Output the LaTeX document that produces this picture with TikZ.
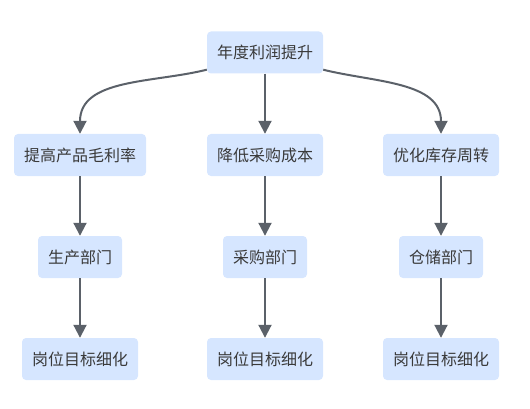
\documentclass[tikz,border=0pt]{standalone}
\usepackage{fontspec}
\newfontfamily\cjk{Noto Sans CJK SC}
\usetikzlibrary{arrows.meta}
\definecolor{boxblue}{HTML}{D6E6FF}
\definecolor{linegray}{HTML}{5B6169}
\definecolor{txtgray}{HTML}{3A3A3A}

\tikzset{
  box/.style={fill=boxblue,rounded corners=4pt,inner xsep=10pt,minimum height=42pt,
    text=txtgray,font=\cjk\fontsize{16}{18}\selectfont},
  arr/.style={draw=linegray,line width=2pt,-{Triangle[length=13pt,width=13pt]}}
}

\begin{document}
\begin{tikzpicture}[x=1pt,y=-1pt]
\useasboundingbox (0,0) rectangle (530,409);
\node[box] (goal) at (265,52.5) {年度利润提升};
\node[box] (margin) at (80,155) {提高产品毛利率};
\node[box] (cost) at (265,155) {降低采购成本};
\node[box] (stock) at (441,155) {优化库存周转};
\node[box] (prod) at (80,257) {生产部门};
\node[box] (buy) at (265,257) {采购部门};
\node[box] (store) at (441,257) {仓储部门};
\node[box] (jobA) at (80,359) {岗位目标细化};
\node[box] (jobB) at (265,359) {岗位目标细化};
\node[box] (jobC) at (441,359) {岗位目标细化};
\draw[arr] ([yshift=4pt]goal.south west) to[out=194,in=90] (margin.north);
\draw[arr] (goal) -- (cost);
\draw[arr] ([yshift=4pt]goal.south east) to[out=-14,in=90] (stock.north);
\draw[arr] (margin) -- (prod);
\draw[arr] (cost) -- (buy);
\draw[arr] (stock) -- (store);
\draw[arr] (prod) -- (jobA);
\draw[arr] (buy) -- (jobB);
\draw[arr] (store) -- (jobC);
\end{tikzpicture}
\end{document}
